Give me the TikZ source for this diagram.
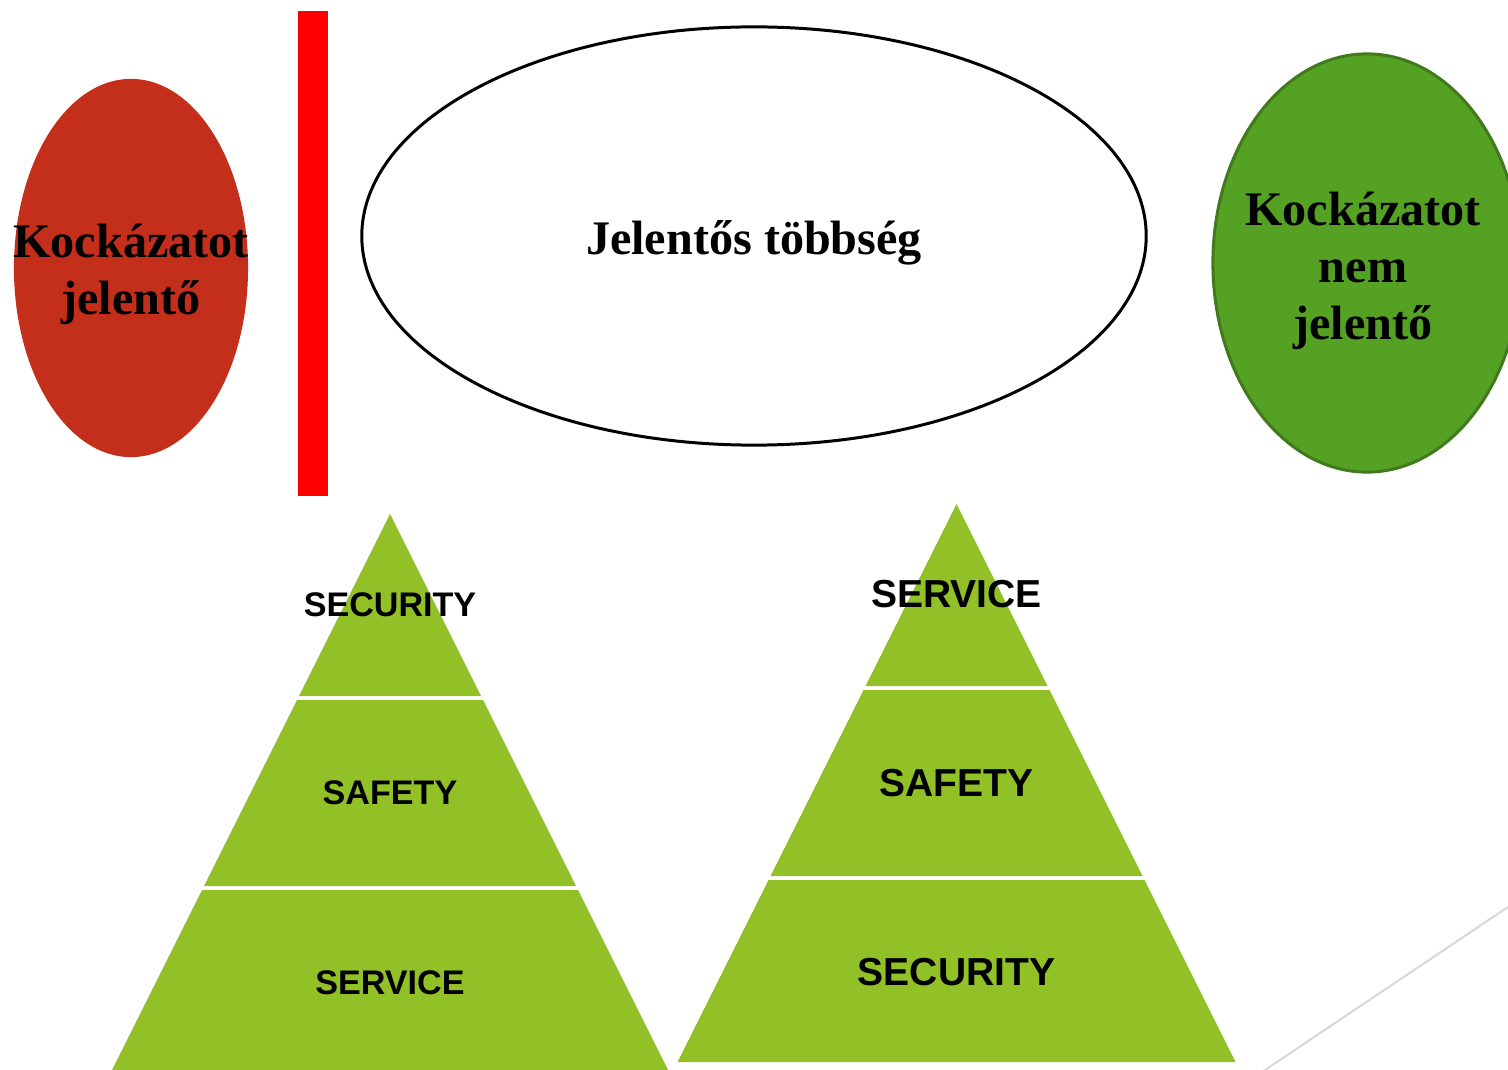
\documentclass[tikz,border=0pt]{standalone}
\usepackage{fontspec}
\setmainfont{Liberation Serif}
\setsansfont{Liberation Sans}
\usetikzlibrary{shapes}
\definecolor{riskred}{HTML}{C42F1B}
\definecolor{riskgreen}{HTML}{55A124}
\definecolor{riskgreenline}{HTML}{41791D}
\definecolor{pyrgreen}{HTML}{92C127}
\definecolor{edgegray}{HTML}{D9D9D9}
\tikzset
{%
blob/.style={ellipse, inner sep=0pt, line width=0.85pt},
bigtext/.style={font=\bfseries\fontsize{13.7}{16.2}\selectfont, align=center, inner sep=0pt},
tier/.style={fill=pyrgreen},
smalltier/.style={font=\sffamily\bfseries\fontsize{9.7}{11}\selectfont, inner sep=0pt},
bigtier/.style={font=\sffamily\bfseries\fontsize{11.1}{13}\selectfont, inner sep=0pt}
}

\begin{document}
\begin{tikzpicture}[x=0.01cm, y=-0.01cm]
	\useasboundingbox (0,0) rectangle (1508,1070);
	\clip (0,0) rectangle (1508,1070);
	
		% TOP ROW
		%Red ellipse
		\node[blob, fill=riskred, minimum width=2.34cm, minimum height=3.78cm] (risk) at (131,268) {};
		\node[bigtext] (risktxt) at (131,274) {Kockázatot\\jelentő};
		
		%Red bar
		\fill[red] (298,11) rectangle (328,496);
		
		%White ellipse
		\node[blob, draw=black, fill=white, minimum width=7.84cm, minimum height=4.18cm] (major) at (754,236) {};
		\node[bigtext] (majortxt) at (754,243) {Jelentős többség};
		
		%Green ellipse
		\node[blob, draw=riskgreenline, fill=riskgreen, minimum width=3.08cm, minimum height=4.18cm] (norisk) at (1367,263) {};
		\node[bigtext] (norisktxt) at (1363,271) {Kockázatot\\nem\\jelentő};
		
		% BOTTOM ROW
		%Left pyramid
		\begin{scope}[shift={(390,514)}]
			\foreach \a/\b in {0/182, 186/372, 376/560}
				\fill[tier] ({-0.5*\a},\a) -- ({0.5*\a},\a) -- ({0.5*\b},\b) -- ({-0.5*\b},\b) -- cycle;
			\node[smalltier] (lsec) at (0,91) {SECURITY};
			\node[smalltier] (lsaf) at (0,279) {SAFETY};
			\node[smalltier] (lser) at (0,469) {SERVICE};
		\end{scope}
		
		%Right pyramid
		\begin{scope}[shift={(956.5,504)}]
			\foreach \a/\b in {0/182, 186/372, 376/558}
				\fill[tier] ({-0.5*\a},\a) -- ({0.5*\a},\a) -- ({0.5*\b},\b) -- ({-0.5*\b},\b) -- cycle;
			\node[bigtier] (rser) at (0,90) {SERVICE};
			\node[bigtier] (rsaf) at (0,279) {SAFETY};
			\node[bigtier] (rsec) at (0,468) {SECURITY};
		\end{scope}
		
		%Corner line
		\draw[edgegray, line width=0.6pt] (1262,1072) -- (1511,905);
	\end{tikzpicture}
\end{document}
